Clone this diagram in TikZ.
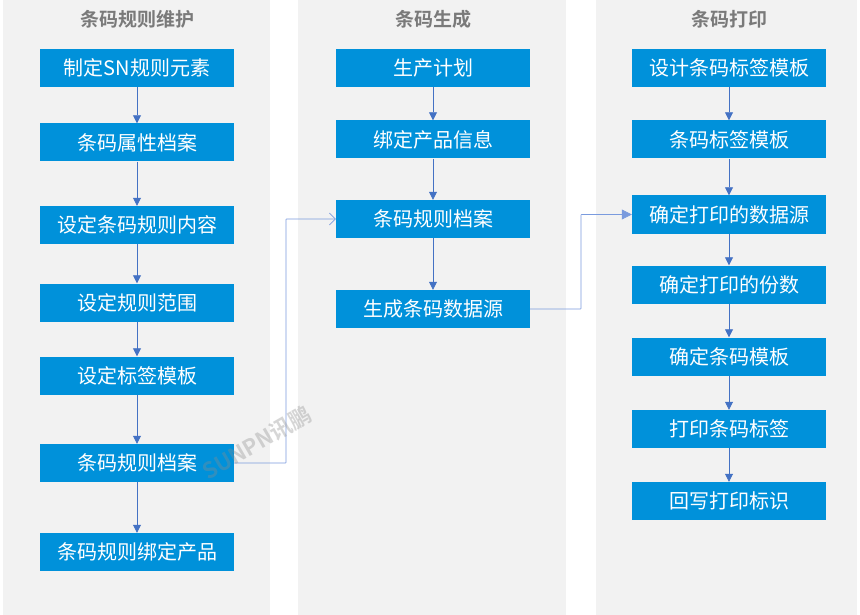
\documentclass[tikz,border=0pt]{standalone}
\usepackage{fontspec}
\setmainfont{Noto Sans CJK SC}
\newfontfamily\headfont{Noto Sans CJK SC Bold}
\usetikzlibrary{arrows.meta}
\colorlet{colbg}{black!5}
\definecolor{boxblue}{RGB}{0,145,218}
\definecolor{arrowblue}{RGB}{68,114,196}
\definecolor{linkblue}{RGB}{122,155,222}
\colorlet{headgray}{black!52}
\tikzset{
  stepbox/.style={fill=boxblue,text=white,minimum width=194pt,minimum height=38pt,
    inner sep=0pt,font=\fontsize{20}{20}\selectfont},
  colhead/.style={text=headgray,font=\headfont\fontsize{19}{19}\selectfont},
  flow/.style={arrowblue,thick,-{Triangle[length=8pt,width=8pt]}},
  link/.style={linkblue,semithick,rounded corners=0.5pt},
}

\begin{document}
\begin{tikzpicture}[x=1pt,y=-1pt]
  \def\W{860}  % total width
  \def\H{615}  % total height
  \useasboundingbox (0,0) rectangle (\W,\H);
  \fill[white] (0,0) rectangle (\W,\H);

  % column backgrounds
  \fill[colbg] (3,0) rectangle (270,\H);
  \fill[colbg] (298,0) rectangle (566,\H);
  \fill[colbg] (596,0) rectangle (857,\H);

  % headers
  \node[colhead] (h1) at (137,19) {条码规则维护};
  \node[colhead] (h2) at (433,19) {条码生成};
  \node[colhead] (h3) at (729,19) {条码打印};

  % column 1
  \node[stepbox] (a1) at (137,68)  {制定SN规则元素};
  \node[stepbox] (a2) at (137,142.5) {条码属性档案};
  \node[stepbox] (a3) at (137,225) {设定条码规则内容};
  \node[stepbox] (a4) at (137,302.5) {设定规则范围};
  \node[stepbox] (a5) at (137,375.5) {设定标签模板};
  \node[stepbox] (a6) at (137,463) {条码规则档案};
  \node[stepbox] (a7) at (137,552) {条码规则绑定产品};

  % column 2
  \node[stepbox] (b1) at (433,68)  {生产计划};
  \node[stepbox] (b2) at (433,139.5) {绑定产品信息};
  \node[stepbox] (b3) at (433,219) {条码规则档案};
  \node[stepbox] (b4) at (433,309) {生成条码数据源};

  % column 3
  \node[stepbox] (c1) at (729,68)  {设计条码标签模板};
  \node[stepbox] (c2) at (729,139.5) {条码标签模板};
  \node[stepbox] (c3) at (729,214.5) {确定打印的数据源};
  \node[stepbox] (c4) at (729,284.5) {确定打印的份数};
  \node[stepbox] (c5) at (729,356.5) {确定条码模板};
  \node[stepbox] (c6) at (729,429) {打印条码标签};
  \node[stepbox] (c7) at (729,501) {回写打印标识};

  % arrows inside the columns
  \foreach \p/\q in {a1/a2,a2/a3,a3/a4,a4/a5,a5/a6,a6/a7,
                     b1/b2,b2/b3,b3/b4,
                     c1/c2,c2/c3,c3/c4,c4/c5,c5/c6,c6/c7}
    \draw[flow] (\p.south) -- (\q.north);

  % links between the columns
  \draw[link,-{Straight Barb[length=6pt,width=12pt]}]
    (a6.east) -| (286,219) -- (b3.west);
  \draw[link,-{Triangle[length=10pt,width=10pt]}]
    (b4.east) -| (581,214.5) -- (c3.west);

  % watermark, on top
  \node[text=black!45,opacity=0.35,rotate=30,font=\headfont\itshape\fontsize{22}{22}\selectfont] (wm) at (257,443) {SUNPN讯鹏};
\end{tikzpicture}
\end{document}
